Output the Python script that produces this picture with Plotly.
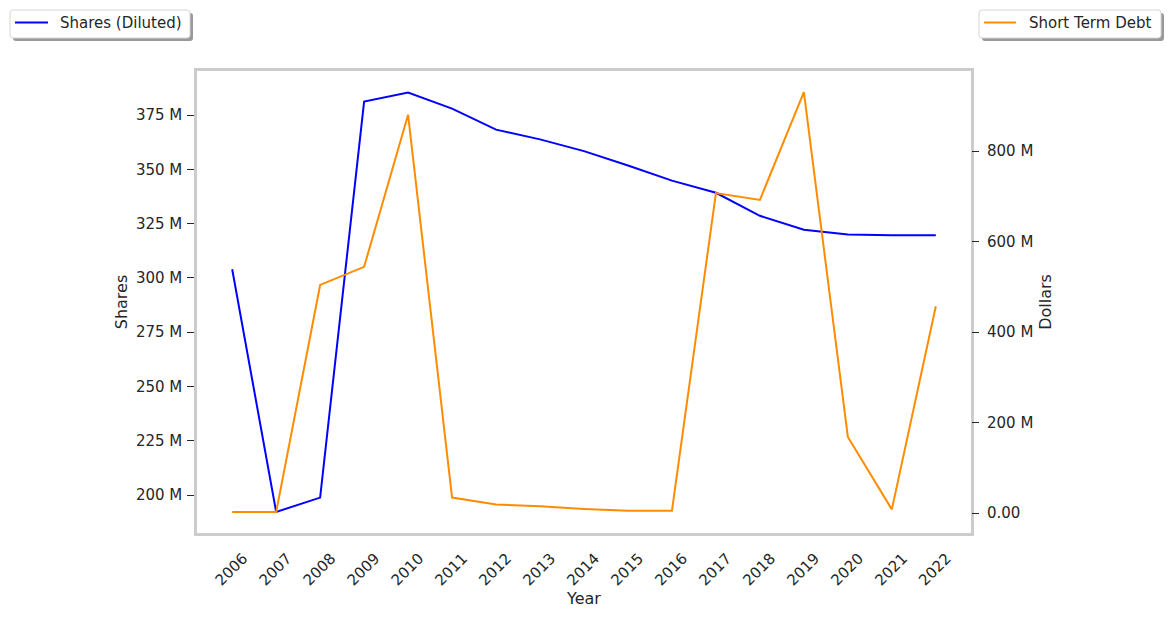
import plotly.graph_objects as go

# data
years = list(range(2006, 2023))
shares_diluted = [304, 192.2, 198.8, 381.2, 385.4, 378.0, 368.3, 363.8, 358.4, 351.8,
                  344.8, 339.2, 328.6, 322.2, 320.0, 319.6, 319.6]  # millions
short_term_debt = [2, 2, 504, 544, 880, 34, 19, 15, 9, 5,
                   5, 707, 692, 930, 168, 8, 457]  # millions of dollars

shares_ticks = [200, 225, 250, 275, 300, 325, 350, 375]
debt_ticks = [0, 200, 400, 600, 800]

FONT = "DejaVu Sans"
TXT = "#262626"
FRAME = "#cccccc"
BLUE = "#0000ff"
ORANGE = "#ff8c00"

fig = go.Figure()
fig.add_trace(go.Scatter(x=years, y=[v * 1e6 for v in shares_diluted], mode="lines",
                         name="Shares (Diluted)", line=dict(color=BLUE, width=2),
                         showlegend=False))
fig.add_trace(go.Scatter(x=years, y=[v * 1e6 for v in short_term_debt], mode="lines",
                         name="Short Term Debt", line=dict(color=ORANGE, width=2),
                         yaxis="y2", showlegend=False))

W, H = 1169, 618
L, R, T, B = 197, 198, 71, 85
pw, ph = W - L - R, H - T - B


def px(x):
    return (x - L) / pw


def py(y):
    return (H - B - y) / ph


def rounded_box(x0, y0, x1, y1, r=3):
    # rounded rectangle path in paper coords, args in window pixels
    a, b, c, d = px(x0), px(x1), py(y1), py(y0)  # left, right, bottom, top
    rx, ry = r / pw, r / ph
    return (f"M {a + rx},{c} L {b - rx},{c} Q {b},{c} {b},{c + ry} "
            f"L {b},{d - ry} Q {b},{d} {b - rx},{d} L {a + rx},{d} "
            f"Q {a},{d} {a},{d - ry} L {a},{c + ry} Q {a},{c} {a + rx},{c} Z")


# matplotlib-like legends: shadow, framed box, line sample, label
legend_boxes = [
    # (box x0, x1, line x0, x1, text x, label, colour)
    (10, 190, 15, 48, 58, "Shares (Diluted)", BLUE),
    (979, 1161, 984, 1016, 1027, "Short Term Debt", ORANGE),
]
shapes, annotations = [], []
for bx0, bx1, lx0, lx1, tx, label, col in legend_boxes:
    shapes.append(dict(type="path", xref="paper", yref="paper",
                       path=rounded_box(bx0 + 3, 13, bx1 + 3, 41),
                       fillcolor="#999999", line=dict(width=0)))
    shapes.append(dict(type="path", xref="paper", yref="paper",
                       path=rounded_box(bx0, 10, bx1, 38),
                       fillcolor="white", line=dict(color="#d6d6d6", width=1)))
    shapes.append(dict(type="line", xref="paper", yref="paper",
                       x0=px(lx0), x1=px(lx1), y0=py(22.5), y1=py(22.5),
                       line=dict(color=col, width=2)))
    annotations.append(dict(xref="paper", yref="paper", x=px(tx), y=py(23.5),
                            xanchor="left", yanchor="middle", showarrow=False,
                            text=label, font=dict(size=15, color=TXT)))

fig.update_layout(
    width=W, height=H,
    margin=dict(l=L, r=R, t=T, b=B),
    plot_bgcolor="white", paper_bgcolor="white",
    font=dict(family=FONT, size=15, color=TXT),
    shapes=shapes, annotations=annotations,
    showlegend=False,
    xaxis=dict(
        range=[2005.2, 2022.8], tickmode="array", tickvals=years,
        ticktext=[str(y) for y in years], tickangle=-45, ticks="",
        showgrid=False, zeroline=False, showline=True, mirror=True,
        linecolor=FRAME, linewidth=2.5, ticklabelshift=11, ticklabelstandoff=8,
        title=dict(text="Year", font=dict(size=16), standoff=5),
    ),
    yaxis=dict(
        range=[182.5e6, 395.3e6], tickmode="array",
        tickvals=[v * 1e6 for v in shares_ticks],
        ticktext=[f"{v} M" for v in shares_ticks],
        ticks="outside", ticklen=7, tickcolor=TXT, tickwidth=1.3,
        ticklabelstandoff=2,
        showgrid=False, zeroline=False, showline=True, mirror=True,
        linecolor=FRAME, linewidth=2.5,
        title=dict(text="Shares", font=dict(size=16), standoff=5),
    ),
    yaxis2=dict(
        range=[-44.2e6, 976.8e6], overlaying="y", side="right", tickmode="array",
        tickvals=[v * 1e6 for v in debt_ticks],
        ticktext=["0.00"] + [f"{v} M" for v in debt_ticks[1:]],
        ticks="outside", ticklen=7, tickcolor=TXT, tickwidth=1.3,
        ticklabelstandoff=5,
        showgrid=False, zeroline=False, showline=False,
        title=dict(text="Dollars", font=dict(size=16), standoff=7),
    ),
)

# drop the default page margin so the figure sits at the window's corner
fig.write_html("out.html", config={"displayModeBar": False},
               post_script="document.body.style.margin='0';")
